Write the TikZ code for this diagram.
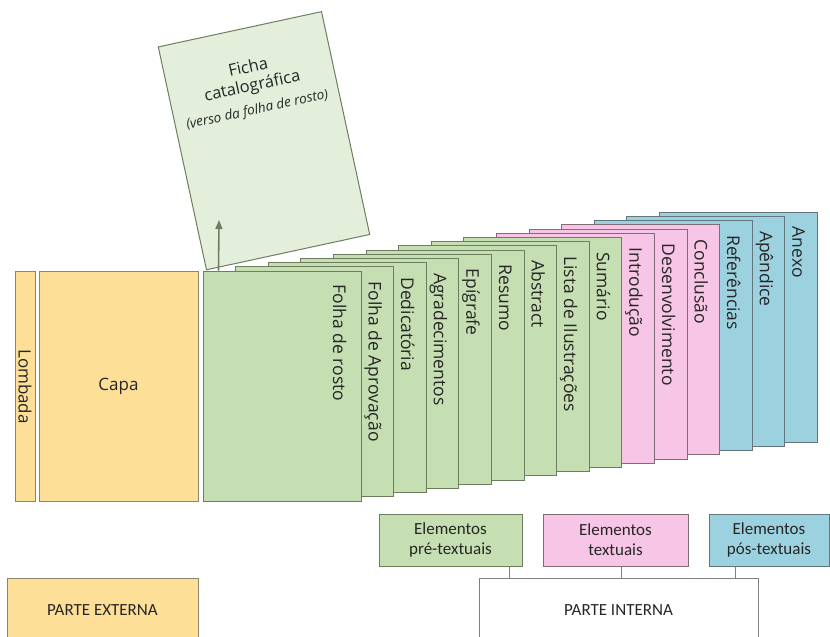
\documentclass[tikz,border=0pt]{standalone}
\usepackage{fontspec}
\setmainfont{Open Sans}
\newfontfamily\boxfont{Carlito}
\usetikzlibrary{positioning,calc,arrows.meta}

\definecolor{capacol}{RGB}{253,223,152}
\definecolor{capaline}{RGB}{140,132,110}
\definecolor{precol}{RGB}{197,223,179}
\definecolor{preline}{RGB}{108,126,94}
\definecolor{fichacol}{RGB}{227,239,218}
\definecolor{txtcol}{RGB}{247,197,229}
\definecolor{txtline}{RGB}{128,108,118}
\definecolor{poscol}{RGB}{156,210,224}
\definecolor{posline}{RGB}{98,118,126}
\definecolor{ink}{RGB}{38,38,38}

\tikzset{
  folha/.style={draw=preline, fill=precol, line width=1pt, minimum width=158pt,
    minimum height=230pt, inner sep=0pt},
  textual/.style={folha, fill=txtcol, draw=txtline},
  postextual/.style={folha, fill=poscol, draw=posline},
  lbl/.style={rotate=-90, anchor=west, inner sep=0pt, text=ink,
    font=\fontsize{17.5}{20}\selectfont, text height=12.5pt, text depth=3.5pt},
  capa/.style={draw=capaline, fill=capacol, line width=1pt, inner sep=0pt, text=ink,
    font=\fontsize{17}{20}\selectfont},
  box/.style={draw, line width=1pt, minimum height=52pt, align=center, inner sep=0pt,
    text=ink, font=\boxfont\fontsize{17}{20}\selectfont},
  seta/.style={-{Triangle[length=9pt,width=7pt]}, line width=1.6pt, draw=preline!85!gray}
}

\begin{document}
\begin{tikzpicture}[x=1pt,y=-1pt]

\clip (0,0) rectangle (830,637);

% parte externa

\node[capa, rotate=-90, minimum width=230pt, minimum height=20pt] (lombada) at (25,386.5) {Lombada};

\node[capa, minimum width=159pt, minimum height=230pt] (capa) at (118.5,386.5) {Capa};

% folhas, from the back to the front

\node[postextual] (p14) at (738.4,327.2) {};
\node[lbl] (l14) at ([xshift=-21pt,yshift=-15pt]p14.north east) {Anexo};

\node[postextual] (p13) at (705.8,331.4) {};
\node[lbl] (l13) at ([xshift=-21pt,yshift=-15pt]p13.north east) {Apêndice};

\node[postextual] (p12) at (673.2,335.6) {};
\node[lbl] (l12) at ([xshift=-21pt,yshift=-15pt]p12.north east) {Referências};

\node[textual] (p11) at (640.6,339.8) {};
\node[lbl] (l11) at ([xshift=-21pt,yshift=-15pt]p11.north east) {Conclusão};

\node[textual] (p10) at (608,344) {};
\node[lbl] (l10) at ([xshift=-21pt,yshift=-15pt]p10.north east) {Desenvolvimento};

\node[textual] (p9) at (575.4,348.2) {};
\node[lbl] (l9) at ([xshift=-21pt,yshift=-15pt]p9.north east) {Introdução};

\node[folha] (p8) at (542.8,352.4) {};
\node[lbl] (l8) at ([xshift=-21pt,yshift=-15pt]p8.north east) {Sumário};

\node[folha] (p7) at (510.2,356.6) {};
\node[lbl] (l7) at ([xshift=-21pt,yshift=-15pt]p7.north east) {Lista de Ilustrações};

\node[folha] (p6) at (477.6,360.8) {};
\node[lbl] (l6) at ([xshift=-21pt,yshift=-15pt]p6.north east) {Abstract};

\node[folha] (p5) at (445,365) {};
\node[lbl] (l5) at ([xshift=-21pt,yshift=-15pt]p5.north east) {Resumo};

\node[folha] (p4) at (412.4,369.2) {};
\node[lbl] (l4) at ([xshift=-21pt,yshift=-15pt]p4.north east) {Epígrafe};

\node[folha] (p3) at (379.8,373.4) {};
\node[lbl] (l3) at ([xshift=-21pt,yshift=-15pt]p3.north east) {Agradecimentos};

\node[folha] (p2) at (347.2,377.6) {};
\node[lbl] (l2) at ([xshift=-21pt,yshift=-15pt]p2.north east) {Dedicatória};

\node[folha] (p1) at (314.6,381.8) {};
\node[lbl] (l1) at ([xshift=-21pt,yshift=-15pt]p1.north east) {Folha de Aprovação};

\node[folha] (p0) at (282,386) {};
\node[lbl] (l0) at ([xshift=-24pt,yshift=-14pt]p0.north east) {Folha de rosto};

% verso da folha de rosto

\node[folha, fill=fichacol, rotate=12.2, minimum width=167pt, minimum height=228pt] (ficha) at (264,140.7) {};

\node[rotate=12.2, anchor=north, align=center, inner sep=0pt, text=ink,
  font=\fontsize{16.5}{19}\selectfont] (fichatxt) at ($(ficha.center)!0.72!(ficha.north)$)
  {Ficha\\catalográfica\\[4pt]{\fontsize{13.5}{15}\selectfont\itshape (verso da folha de rosto)}};

\coordinate (tip) at (219,220);

\draw[seta] ([xshift=16pt]p0.north west) -- (tip);

% legenda

\node[box, fill=precol, draw=preline, minimum width=143pt] (pre) at (450.5,540) {Elementos\\pré-textuais};

\node[box, fill=txtcol, draw=txtline, minimum width=145pt, right=20pt of pre] (txt) {Elementos\\textuais};

\node[box, fill=poscol, draw=posline, minimum width=120pt, right=20pt of txt] (postxt) {Elementos\\pós-textuais};

\node[box, fill=capacol, draw=capaline, minimum width=191pt, minimum height=64pt] (externa) at (102.5,610) {PARTE EXTERNA};

\node[box, fill=white, draw=gray, minimum width=279pt, minimum height=64pt] (interna) at (618.5,610) {PARTE INTERNA};

\coordinate (k1) at (509,0);
\coordinate (k2) at (621,0);
\coordinate (k3) at (735,0);

\draw[gray, line width=1pt]
  (pre.south -| k1) -- (interna.north -| k1)
  (txt.south -| k2) -- (interna.north -| k2)
  (postxt.south -| k3) -- (interna.north -| k3);

\end{tikzpicture}
\end{document}
